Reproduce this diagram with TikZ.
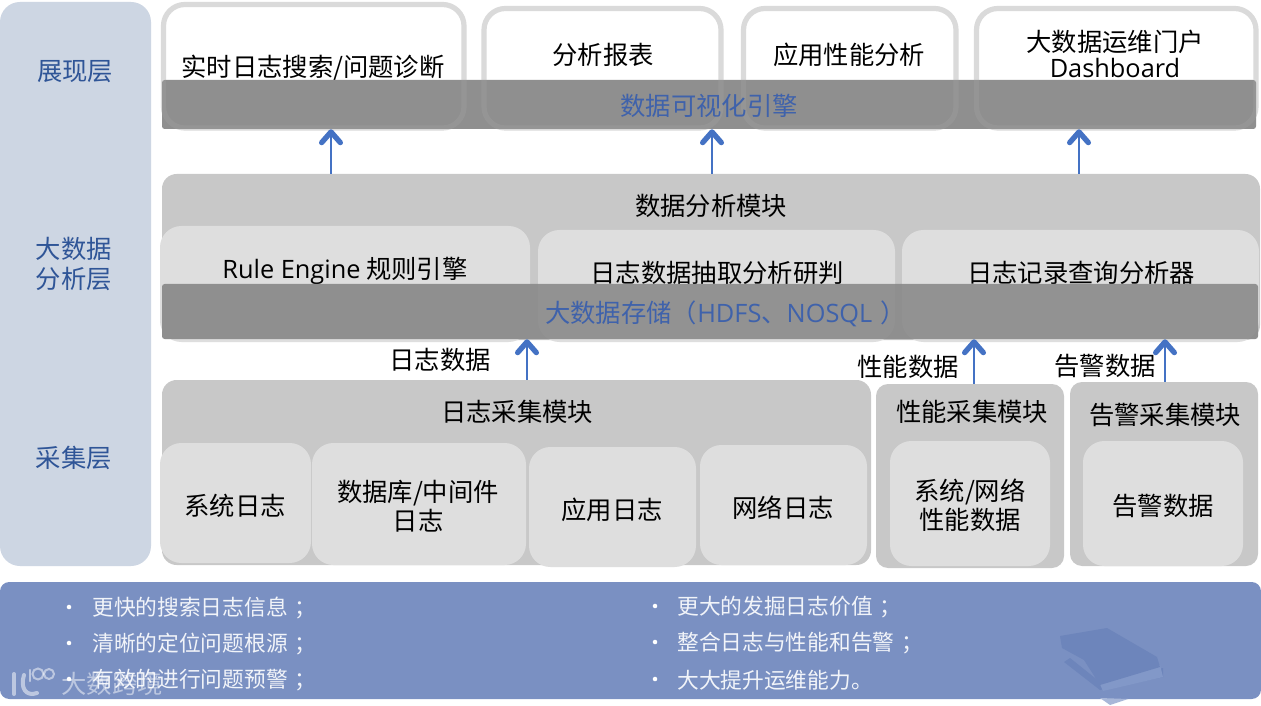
\documentclass[tikz,border=0pt]{standalone}
\usepackage{fontspec}
\setmainfont{Noto Sans CJK SC}
\newfontfamily\latf{Open Sans}
\usetikzlibrary{arrows.meta}
\definecolor{panel}{HTML}{CDD6E3}
\definecolor{ring}{HTML}{DADADA}
\definecolor{mod}{HTML}{C8C8C8}
\definecolor{cell}{HTML}{DEDEDE}
\definecolor{bar}{HTML}{8F8F8F}
\definecolor{bluetxt}{HTML}{3F62AB}
\definecolor{layertxt}{HTML}{2F5597}
\definecolor{arrowc}{HTML}{4472C4}
\definecolor{bottom}{HTML}{7A90C2}
\definecolor{bookc}{HTML}{6D85BB}
\definecolor{pagec}{HTML}{8298C8}
\newcommand{\bx}[6]{% name, x1,y1,x2,y2, style
  \path[#6] (#2,#3) rectangle (#4,#5);
  \coordinate (#1) at (#2,#3);
  \coordinate (#1-br) at (#4,#5);
}
\tikzset{
  x=0.75pt,y=-0.75pt,
  ringbox/.style={draw=ring,line width=3.9pt,fill=white,rounded corners=16pt},
  cellbox/.style={fill=cell,rounded corners=16pt},
  main/.style={font=\fontsize{19pt}{21.8pt}\selectfont,text=black,align=center,inner sep=0pt},
  layer/.style={font=\fontsize{19pt}{22pt}\selectfont,text=layertxt,align=center,inner sep=0pt},
  barlab/.style={font=\fontsize{19pt}{22pt}\selectfont,text=bluetxt,inner sep=0pt},
  bul/.style={font=\fontsize{16.3pt}{19pt}\selectfont,text=white,inner sep=0pt,anchor=west,text opacity=.9},
  upa/.style={draw=arrowc,line width=2pt,-{Straight Barb[length=8pt,width=14pt,line width=4pt,round]}},
  thina/.style={draw=arrowc,line width=.8pt,-{Straight Barb[length=8pt,width=14pt,line width=4pt,round]}},
}
\begin{document}
\begin{tikzpicture}
\useasboundingbox (0,0) rectangle (1261,706);
\fill[white] (0,0) rectangle (1261,706);
% left panel
\node[fill=panel,rounded corners=15pt,minimum width=113.25pt,minimum height=423pt,inner sep=0pt] (panel) at (75.5,284) {};
\node[layer] (l1) at (75,72) {展现层};
\node[layer] (l2) at (74,264) {大数据\\分析层};
\node[layer] (l3) at (74,458) {采集层};
% top boxes
\bx{a}{163.5}{4.5}{464}{128}{ringbox}
\bx{b}{484}{8.5}{721}{128}{ringbox}
\bx{c}{743.5}{8.5}{956}{128}{ringbox}
\bx{d}{976.5}{8.5}{1256}{128}{ringbox}
\node[main] (ta) at (313,68) {实时日志搜索/问题诊断};
\node[main] (tb) at (603,55) {分析报表};
\node[main] (tc) at (849,55) {应用性能分析};
\node[main] (td) at (1115,54) {大数据运维门户\\[-2pt]{\latf Dashboard}};
% visualisation bar
\node[fill=bar,rounded corners=2pt,minimum width=820.5pt,minimum height=36.75pt,inner sep=0pt] (viz) at (709,104.5) {};
\begin{scope}
\clip (162,80) rectangle (1256,129);
\foreach \p/\q/\r/\s in {163.5/4.5/464/128,484/8.5/721/128,743.5/8.5/956/128,976.5/8.5/1256/128}
  \draw[white,draw opacity=.06,line width=3.9pt,rounded corners=16pt] (\p,\q) rectangle (\r,\s);
\end{scope}
\node[barlab] (tv) at (709,106) {数据可视化引擎};
% analysis
\node[fill=mod,rounded corners=11pt,minimum width=823.5pt,minimum height=124.5pt,inner sep=0pt] (ana) at (711,257) {};
\bx{e}{160}{226}{530}{342}{cellbox}
\bx{f}{538}{230}{895}{342}{cellbox}
\bx{g}{902}{230}{1259}{342}{cellbox}
\node[main] (te0) at (711,206) {数据分析模块};
\node[main] (te) at (345,271) {{\latf Rule Engine} 规则引擎};
\node[main] (tf) at (717,273) {日志数据抽取分析研判};
\node[main] (tg) at (1081,273) {日志记录查询分析器};
\node[fill=bar,rounded corners=2pt,minimum width=822pt,minimum height=41.25pt,inner sep=0pt] (store) at (710,311.5) {};
\begin{scope}
\clip (162,284) rectangle (1258,339);
\fill[white,fill opacity=.03,rounded corners=16pt] (538,230) rectangle (895,342);
\fill[white,fill opacity=.03,rounded corners=16pt] (902,230) rectangle (1259,342);
\end{scope}
\node[barlab,anchor=west] (ts) at (545,314) {大数据存储（{\latf HDFS}、{\latf NOSQL}\hspace{6pt}）};
% connectors top
\draw[upa] (ana.north -| 331,0) -- (viz.south -| 331,0);
\draw[thina] (ana.north -| 712,0) -- (viz.south -| 712,0);
\draw[upa] (ana.north -| 1079,0) -- (viz.south -| 1079,0);
% collection
\node[fill=mod,rounded corners=11pt,minimum width=531.75pt,minimum height=138.75pt,inner sep=0pt] (logm) at (516.5,472.5) {};
\node[fill=mod,rounded corners=9pt,minimum width=141pt,minimum height=138pt,inner sep=0pt] (perfm) at (970,476) {};
\node[fill=mod,rounded corners=9pt,minimum width=141pt,minimum height=138pt,inner sep=0pt] (alm) at (1164,474) {};
\bx{h}{160}{443}{311}{563}{cellbox}
\bx{i}{312}{443}{526}{565}{cellbox}
\bx{j}{529}{447}{696}{567}{cellbox}
\bx{k}{700}{445}{867}{565}{cellbox}
\bx{m}{890}{441}{1050}{566}{cellbox}
\bx{n}{1083}{441}{1243}{566}{cellbox}
\node[main] (t1) at (517,412) {日志采集模块};
\node[main] (t2) at (972,412) {性能采集模块};
\node[main] (t3) at (1165,415) {告警采集模块};
\node[main] (th) at (235,506) {系统日志};
\node[main] (ti) at (418,506) {数据库/中间件\\日志};
\node[main] (tj) at (612,510) {应用日志};
\node[main] (tk) at (783,508) {网络日志};
\node[main] (tm) at (970,505) {系统/网络\\性能数据};
\node[main] (tn) at (1163,506) {告警数据};
\node[main] (d1) at (440,360) {日志数据};
\node[main] (d2) at (908,367) {性能数据};
\node[main] (d3) at (1105,366) {告警数据};
\draw[upa] (logm.north -| 527,0) -- (store.south -| 527,0);
\draw[upa] (perfm.north -| 974,0) -- (store.south -| 974,0);
\draw[upa] (alm.north -| 1165,0) -- (store.south -| 1165,0);
% bottom band
\node[fill=bottom,rounded corners=7pt,minimum width=945.75pt,minimum height=87.75pt,inner sep=0pt] (band) at (630.5,640.5) {};
% book
\fill[pagec!70!white] (1100,698) -- (1110,705) -- (1128,699) -- cycle;
\fill[bookc] (1064,662) -- (1100,690) -- (1163,677) -- (1163,668) -- (1100,682) -- (1070,658) -- cycle;
\fill[pagec] (1098,680) -- (1160,665) -- (1163,677) -- (1103,691) -- cycle;
\fill[bookc] (1060,636) -- (1107,628) -- (1157,657) -- (1160,667) -- (1100,685) -- (1084,660) -- (1062,648) -- cycle;
% bullets
\node[bul] (b1) at (92,608) {更快的搜索日志信息\hspace{5pt}；};
\node[bul] (b2) at (92,644) {清晰的定位问题根源\hspace{5pt}；};
\node[bul] (b3) at (92,680) {有效的进行问题预警\hspace{5pt}；};
\node[bul] (b4) at (677,607) {更大的发掘日志价值\hspace{5pt}；};
\node[bul] (b5) at (677,643) {整合日志与性能和告警\hspace{5pt}；};
\node[bul] (b6) at (677,680) {大大提升运维能力。};
\foreach \n/\y in {m1/607,m2/643,m3/679}
  \node[circle,fill=white,minimum size=3.4pt,inner sep=0pt] (\n) at (69,\y) {};
\foreach \n/\y in {m4/606,m5/642,m6/679}
  \node[circle,fill=white,minimum size=3.4pt,inner sep=0pt] (\n) at (655,\y) {};
% watermark
\begin{scope}[draw=white,draw opacity=.5,line cap=round]
\draw[line width=3pt] (14,674) -- (14,694);
\draw[line width=3pt] (24,675) .. controls (20,688) and (26,697) .. (37,693);
\draw[line width=1.6pt] (30,670) -- (30,681);
\draw[line width=1.5pt] (38,674) circle[radius=5.5];
\draw[line width=1.5pt] (49,674) circle[radius=5];
\end{scope}
\node[font=\fontsize{19pt}{22pt}\selectfont,text=white,text opacity=.5,inner sep=0pt] (wm) at (112,684) {大数跨境};
\end{tikzpicture}
\end{document}
